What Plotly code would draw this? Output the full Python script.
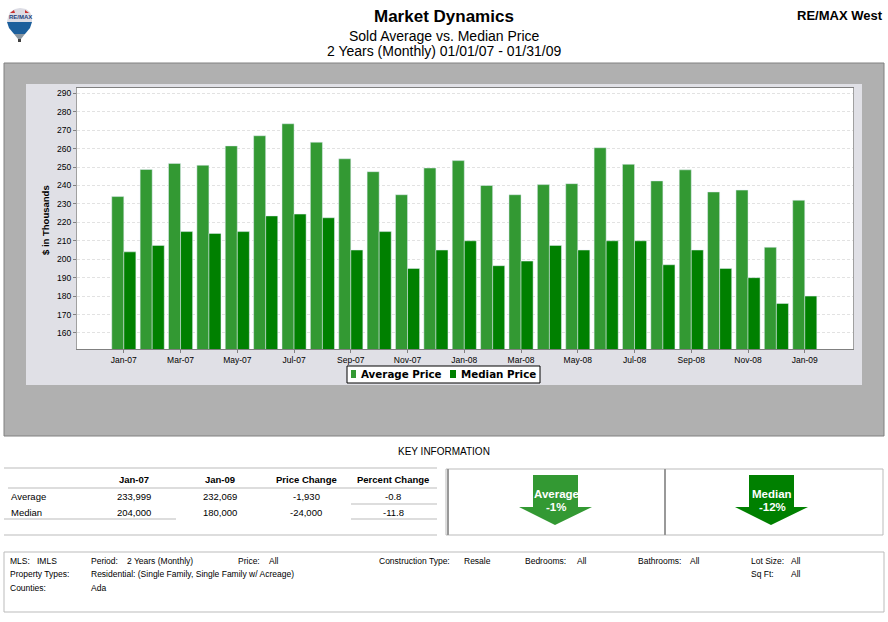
import plotly.graph_objects as go

W, H = 888, 622

months = ['Jan-07', 'Feb-07', 'Mar-07', 'Apr-07', 'May-07', 'Jun-07', 'Jul-07', 'Aug-07', 'Sep-07',
          'Oct-07', 'Nov-07', 'Dec-07', 'Jan-08', 'Feb-08', 'Mar-08', 'Apr-08', 'May-08', 'Jun-08',
          'Jul-08', 'Aug-08', 'Sep-08', 'Oct-08', 'Nov-08', 'Dec-08', 'Jan-09']
average_price = [234, 248.7, 252, 251, 261.5, 267, 273.5, 263.5, 254.5, 247.5, 235, 249.5, 253.5,
                 240, 235, 240.5, 241, 260.5, 251.5, 242.5, 248.5, 236.5, 237.5, 206.5, 232]
median_price = [204, 207.5, 215, 214, 215, 223.5, 224.5, 222.5, 205, 215, 195, 205, 210,
                196.5, 199, 207.5, 205, 210, 210, 197, 205, 195, 190, 176, 180]
y_ticks = [160, 170, 180, 190, 200, 210, 220, 230, 240, 250, 260, 270, 280, 290]

table_head = ['Jan-07', 'Jan-09', 'Price Change', 'Percent Change']
table_rows = [['Average', '233,999', '232,069', '-1,930', '-0.8'],
              ['Median', '204,000', '180,000', '-24,000', '-11.8']]

AVG_COLOR = '#339933'
MED_COLOR = '#008000'
FONT = 'Liberation Sans'


# pixel helpers, the page is laid out in screen pixels
def px(x):
    return x / W


def py(y):
    return 1 - y / H


shapes = []
annotations = []


def box(x0, y0, x1, y1, fill=None, line=None, width=1, layer='below'):
    shapes.append(dict(type='rect', xref='paper', yref='paper', x0=px(x0), x1=px(x1), y0=py(y0), y1=py(y1),
                       fillcolor=fill or 'rgba(0,0,0,0)', line=dict(color=line, width=width if line else 0),
                       layer=layer))


def hline(x0, x1, y, color='#bbbbbb', width=1):
    shapes.append(dict(type='line', xref='paper', yref='paper', x0=px(x0), x1=px(x1), y0=py(y), y1=py(y),
                       line=dict(color=color, width=width)))


def poly(points, fill):
    path = 'M ' + ' L '.join(f'{px(a):.5f},{py(b):.5f}' for a, b in points) + ' Z'
    shapes.append(dict(type='path', xref='paper', yref='paper', path=path, fillcolor=fill, line=dict(width=0)))


def text(x, y, s, size=9, anchor='center', bold=False, color='black', family=FONT, angle=0):
    annotations.append(dict(xref='paper', yref='paper', x=px(x), y=py(y), text=f'<b>{s}</b>' if bold else s,
                            showarrow=False, xanchor=anchor, yanchor='middle', textangle=angle, borderpad=0,
                            font=dict(family=family, size=size, color=color)))


# panels behind the chart, paper shapes cover plot_bgcolor so the plot area needs its own white box
box(4, 63, 884, 436, fill='#b0b0b0', line='#808080')
box(26, 84, 862, 385, fill='#e0e0e6')
box(77, 88, 853, 349, fill='white')

# header
text(444, 17, 'Market Dynamics', size=17, bold=True)
text(444, 36, 'Sold Average vs. Median Price', size=14)
text(444, 51, '2 Years (Monthly) 01/01/07 - 01/31/09', size=14)
text(884, 16, 'RE/MAX West', size=13, anchor='right', bold=True)

# balloon logo
poly([(8, 17), (10, 12), (15, 9), (20, 8), (26, 9), (30, 12), (32, 17), (32, 22), (7, 22)], '#dcdce4')
poly([(10, 13), (14, 10), (15, 13)], '#c83030')
poly([(25, 10), (29, 13), (25, 13)], '#c83030')
poly([(7, 22), (32, 22), (30, 28), (25, 34), (14, 34), (9, 28)], '#1c5f9c')
poly([(14, 34), (25, 34), (21, 39), (18, 39)], '#8a96a0')
poly([(18, 39), (21, 39), (21, 42), (18, 42)], '#404040')
text(20, 17, 'RE/MAX', size=6, bold=True, color='#1c3f7c')

# legend drawn by hand, plotly's own legend cannot get this tight
box(347, 366, 540, 383, fill='white', line='black', layer='above')
poly([(351, 370), (356, 370), (356, 378), (351, 378)], AVG_COLOR)
poly([(450, 370), (456, 370), (456, 378), (450, 378)], MED_COLOR)
text(360, 374, 'Average Price', size=10.3, anchor='left', bold=True, family='DejaVu Sans')
text(460, 374, 'Median Price', size=10.3, anchor='left', bold=True, family='DejaVu Sans')

# key information table
text(444, 451, 'KEY INFORMATION', size=10)
col_x = [134, 220, 306, 393]
for x, s in zip(col_x, table_head):
    text(x, 480, s, size=9.5, bold=True)
for i, row in enumerate(table_rows):
    y = 496 + i * 16
    text(10, y, row[0], size=9.5, anchor='left')
    for x, s in zip(col_x, row[1:]):
        text(x, y, s, size=9.5)
hline(4, 437, 468)
hline(8, 437, 488)
hline(351, 437, 504)
hline(4, 176, 519)
hline(351, 437, 519)
hline(4, 437, 535)

# arrows box
box(446, 469, 883, 535, line='#bbbbbb')
shapes.append(dict(type='line', xref='paper', yref='paper', x0=px(448), x1=px(448), y0=py(469), y1=py(535),
                   line=dict(color='#999999', width=2)))
shapes.append(dict(type='line', xref='paper', yref='paper', x0=px(665), x1=px(665), y0=py(469), y1=py(535),
                   line=dict(color='#999999', width=2)))
poly([(533, 475), (578, 475), (578, 507), (592, 507), (555, 525), (519, 507), (533, 507)], AVG_COLOR)
poly([(749, 475), (794, 475), (794, 507), (808, 507), (771, 525), (735, 507), (749, 507)], MED_COLOR)
text(556, 494, 'Average', size=11.5, bold=True, color='white')
text(556, 507, '-1%', size=11.5, bold=True, color='white')
text(772, 494, 'Median', size=11.5, bold=True, color='white')
text(772, 507, '-12%', size=11.5, bold=True, color='white')

# search criteria box
box(4, 552, 884, 612, line='#bbbbbb')
criteria = [(9, 561, 'MLS:'), (36, 561, 'IMLS'), (90, 561, 'Period:'), (126, 561, '2 Years (Monthly)'),
            (237, 561, 'Price:'), (268, 561, 'All'), (378, 561, 'Construction Type:'), (463, 561, 'Resale'),
            (524, 561, 'Bedrooms:'), (576, 561, 'All'), (637, 561, 'Bathrooms:'), (689, 561, 'All'),
            (750, 561, 'Lot Size:'), (790, 561, 'All'), (9, 574, 'Property Types:'),
            (90, 574, 'Residential: (Single Family, Single Family w/ Acreage)'), (750, 574, 'Sq Ft:'),
            (790, 574, 'All'), (9, 588, 'Counties:'), (90, 588, 'Ada')]
for x, y, s in criteria:
    text(x, y, s, size=8.5, anchor='left')

text(45, 220, '$ in Thousands', size=9.5, bold=True, angle=-90)

fig = go.Figure()
fig.add_trace(go.Bar(x=months, y=average_price, name='Average Price', marker=dict(color=AVG_COLOR)))
fig.add_trace(go.Bar(x=months, y=median_price, name='Median Price', marker=dict(color=MED_COLOR)))

fig.update_layout(
    width=W, height=H,
    margin=dict(l=0, r=0, t=0, b=0),
    paper_bgcolor='white', plot_bgcolor='white',
    barmode='group', bargap=0.15, bargroupgap=0,
    showlegend=False,
    shapes=shapes, annotations=annotations,
    font=dict(family=FONT, color='black'),
    xaxis=dict(domain=[px(77), px(853)], range=[-1.65, 25.7], type='category',
               categoryorder='array', categoryarray=months,
               tickmode='array', tickvals=months[::2], ticktext=months[::2],
               ticks='outside', ticklen=3, tickcolor='#808080', tickfont=dict(size=8.5),
               showline=True, linecolor='#808080', mirror=True, showgrid=False, anchor='y'),
    yaxis=dict(domain=[py(349), py(88)], range=[151.3, 292.9],
               tickmode='array', tickvals=y_ticks,
               ticks='outside', ticklen=3, tickcolor='#808080', tickfont=dict(size=8.5),
               showline=True, linecolor='#a0a0a0', mirror=True,
               gridcolor='#e2e2e2', griddash='3px,2px', gridwidth=1, zeroline=False, anchor='x'),
)

fig.write_html('out.html', config=dict(displayModeBar=False),
               post_script="document.body.style.margin='0';")
